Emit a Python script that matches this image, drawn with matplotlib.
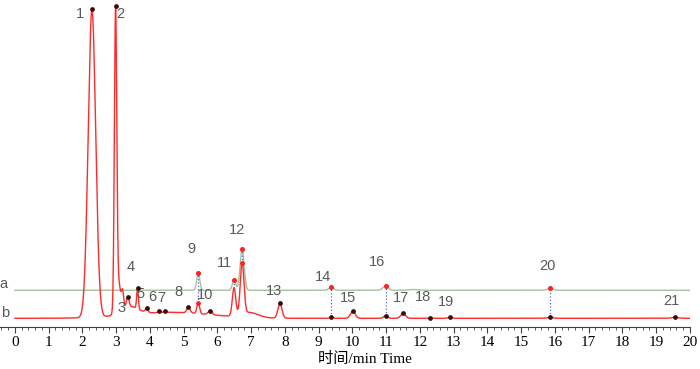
import numpy as np
import matplotlib
matplotlib.use('Agg')
import matplotlib.pyplot as plt
from matplotlib.ticker import MultipleLocator

plt.rcParams['font.family'] = ['Liberation Sans', 'DejaVu Sans']

# peak table of trace b: retention time (min), height, width (min)
b_rt = [2.28, 2.98, 3.06, 3.19, 3.34, 3.40, 3.63, 3.90, 4.28, 4.45, 4.60,
        5.14, 5.43, 5.78, 6.49, 6.73, 6.95, 7.85, 9.37, 10.01, 10.98,
        11.50, 12.30, 12.89, 15.86, 19.56]
b_h = [308, 292, 30, 15, 10, 8, 21, 4, 1, 1, 6,
       5.5, 10.5, 3.5, 28, 51, 5, 15, 1, 7, 2.7,
       5, 0.5, 1, 1, 1]
b_w = [0.11, 0.035, 0.07, 0.03, 0.04, 0.25, 0.025, 0.04, 0.04, 0.04, 1.2,
       0.05, 0.04, 0.06, 0.05, 0.055, 0.25, 0.06, 0.05, 0.07, 0.06,
       0.07, 0.05, 0.06, 0.08, 0.1]

# peak table of trace a (offset above b)
a_offset = 28
a_rt = [5.43, 6.49, 6.73, 9.37, 10.98, 11.80, 15.86]
a_h = [17.7, 10, 41.7, 3.3, 4.3, 0.8, 2.0]
a_w = [0.045, 0.05, 0.06, 0.07, 0.08, 0.12, 0.09]

# numbered peaks
peak_no = list(range(1, 22))
peak_rt = [2.28, 2.98, 3.34, 3.63, 3.90, 4.28, 4.45, 5.14, 5.43, 5.78, 6.49,
           6.73, 7.85, 9.37, 10.01, 10.98, 11.50, 12.30, 12.89, 15.86, 19.56]
# peaks also found in trace a
shared = [9, 11, 12, 14, 16, 20]

# label anchor (min, height) for each number
lab_x = [1.93, 3.11, 3.17, 3.42, 3.73, 4.06, 4.35, 4.83, 5.24, 5.63, 6.22,
         6.59, 7.67, 9.13, 9.87, 10.74, 11.43, 12.10, 12.76, 15.77, 19.46]
lab_y = [304, 304, 10.5, 51.5, 24, 21, 20, 26, 69, 23, 55,
         88, 27, 41.5, 20, 56.5, 20, 21, 16.5, 52, 17]


def trace(t, rts, hs, ws):
    y = np.zeros_like(t)
    for r, h, w in zip(rts, hs, ws):
        y += h * np.exp(-0.5 * ((t - r) / w) ** 2)
    return y


t = np.linspace(0, 20, 8001)
yb = trace(t, b_rt, b_h, b_w)
ya = a_offset + trace(t, a_rt, a_h, a_w)

fig = plt.figure(figsize=(7, 3.69), dpi=100)
ax = fig.add_axes([0, 0.113, 690 / 700, 0.887])
ax.plot(t, ya, color='#a3c29b', lw=1.0, zorder=2)
ax.plot(t, yb, color='#ff2a2a', lw=1.0, zorder=3)

for n, r in zip(peak_no, peak_rt):
    i = np.argmin(np.abs(t - r))
    yb_pk = yb[i]
    if n in shared:
        ya_pk = ya[i]
        ax.plot([r, r], [yb_pk, ya_pk], ls=':', color='#5a64c8', lw=0.9, zorder=4)
        ax.plot(r, ya_pk, 'o', ms=2.6, color='#ff2020', zorder=5)
    if n != 11:
        col = '#ff2020' if n in (9, 12) else '#3a0a0a'
        ax.plot(r, yb_pk, 'o', ms=2.4, color=col, zorder=5)

for n, x, y in zip(peak_no, lab_x, lab_y):
    ax.text(x, y, str(n), ha='center', va='center', fontsize=10.5, color='#595959')

ax.text(-0.33, 34, 'a', ha='center', va='center', fontsize=10.5, color='#595959')
ax.text(-0.30, 5, 'b', ha='center', va='center', fontsize=10.5, color='#595959')

ax.set_xlim(-0.444, 20)
ax.set_ylim(-9, 318.3)
for s in ('top', 'right', 'left'):
    ax.spines[s].set_visible(False)
ax.spines['bottom'].set_color('#404040')
ax.set_yticks([])
ax.set_xticks(range(0, 21))
ax.xaxis.set_minor_locator(MultipleLocator(0.2))
ax.tick_params(axis='x', which='major', length=4, width=0.8, color='#404040', pad=2,
               labelsize=11)
ax.tick_params(axis='x', which='minor', length=2.5, width=0.6, color='#404040')
for lbl in ax.get_xticklabels():
    lbl.set_fontfamily('Liberation Serif')
ax.set_xlabel('时间/min Time', fontsize=11, family=['Liberation Serif', 'Noto Sans CJK SC'],
              va='center')
ax.xaxis.set_label_coords(365 / 690, -31.7 / 327.3)

fig.savefig('out.png', dpi=100)
